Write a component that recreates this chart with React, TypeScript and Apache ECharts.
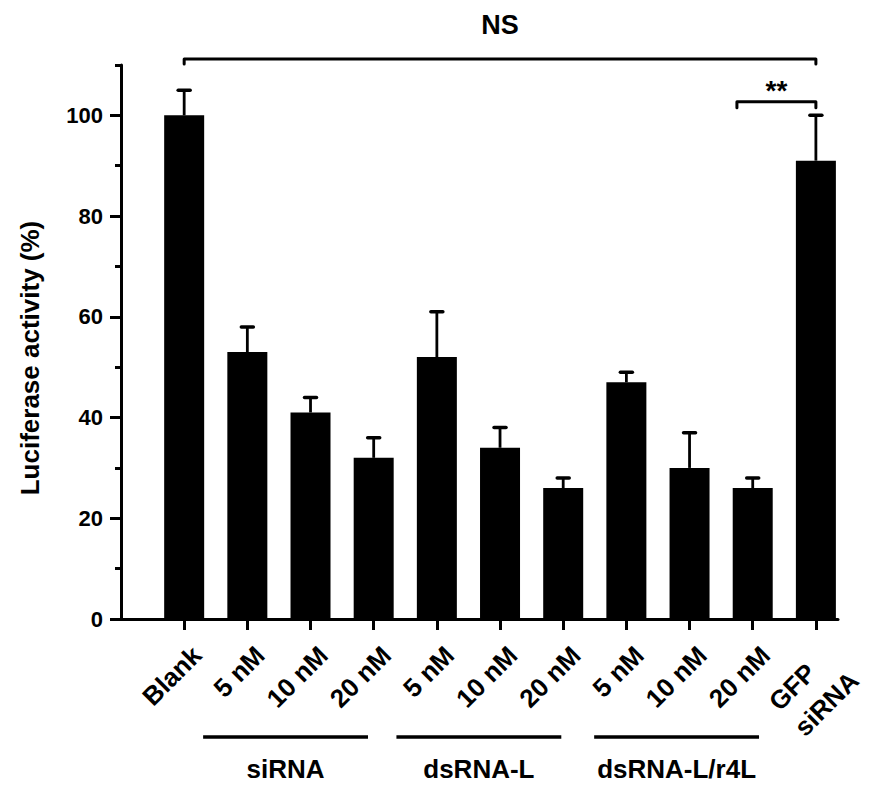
import React, { useEffect, useRef } from 'react';
import * as echarts from 'echarts';

const categories = ['Blank', '5 nM', '10 nM', '20 nM', '5 nM', '10 nM', '20 nM', '5 nM', '10 nM', '20 nM', 'GFP\nsiRNA'];
const luciferase = [100, 53, 41, 32, 52, 34, 26, 47, 30, 26, 91];
const errorTop = [105, 58, 44, 36, 61, 38, 28, 49, 37, 28, 100];
const categoryTicks = [0, 1, 2, 3, 4, 5, 6, 7, 8, 9, 10];
const yMajorTicks = [0, 20, 40, 60, 80, 100];
const yMinorTicks = [10, 30, 50, 70, 90, 110];

const groupNames = ['siRNA', 'dsRNA-L', 'dsRNA-L/r4L'];
const groupStart = [0.3, 3.36, 6.49];
const groupEnd = [2.91, 5.97, 9.1];

const bracketLabels = ['NS', '**'];
const bracketStart = [0, 8.75];
const bracketEnd = [10, 10];
const bracketTop = [111.2, 102.7];
const bracketFoot = [110.2, 101.5];
const bracketLabelY = [117.9, 105];

const FONT = '"Liberation Sans", Arial, sans-serif';

export default function App() {
  const ref = useRef<HTMLDivElement>(null);

  useEffect(() => {
    if (!ref.current) return;
    const chart = echarts.init(ref.current, undefined, { renderer: 'svg' });

    const option: any = {
      animation: false,
      backgroundColor: '#ffffff',
      grid: { left: 121, top: 65, right: 32, bottom: 166 },
      xAxis: {
        type: 'value',
        min: -1,
        max: 10.35,
        splitLine: { show: false },
        axisLine: { show: true, onZero: false, lineStyle: { color: '#000', width: 3 } },
        axisTick: { show: true, customValues: categoryTicks, length: 11, lineStyle: { color: '#000', width: 3 } },
        axisLabel: {
          customValues: categoryTicks,
          rotate: 45,
          margin: 19,
          verticalAlign: 'top',
          lineHeight: 36,
          color: '#000',
          fontSize: 26,
          fontWeight: 'bold',
          fontFamily: FONT,
          formatter: (v: number) => {
            const c = categories[Math.round(v)] ?? '';
            return c.split('\n').map((s) => '{a|' + s + '}').join('\n');
          },
          rich: {
            a: { align: 'left', fontSize: 26, fontWeight: 'bold', fontFamily: FONT, color: '#000', lineHeight: 36 },
          },
        },
      },
      yAxis: [
        {
          type: 'value',
          position: 'left',
          min: 0,
          max: 110,
          splitLine: { show: false },
          axisLine: { show: true, onZero: false, lineStyle: { color: '#000', width: 3 } },
          axisTick: { show: true, customValues: yMajorTicks, length: 11, lineStyle: { color: '#000', width: 3 } },
          axisLabel: {
            customValues: yMajorTicks,
            margin: 18,
            color: '#000',
            fontSize: 22,
            fontWeight: 'bold',
            fontFamily: FONT,
          },
        },
        {
          type: 'value',
          position: 'left',
          min: 0,
          max: 110,
          splitLine: { show: false },
          axisLine: { show: false, onZero: false },
          axisTick: { show: true, customValues: yMinorTicks, length: 6, lineStyle: { color: '#000', width: 3 } },
          axisLabel: { show: false },
        },
      ],
      graphic: [
        {
          type: 'text',
          x: 30,
          y: 358,
          rotation: Math.PI / 2,
          style: {
            text: 'Luciferase activity (%)',
            fill: '#000',
            fontSize: 26,
            fontWeight: 'bold',
            fontFamily: FONT,
            textAlign: 'center',
            textVerticalAlign: 'middle',
          },
        },
      ],
      series: [
        {
          type: 'bar',
          xAxisIndex: 0,
          yAxisIndex: 0,
          barWidth: 40,
          itemStyle: { color: '#000' },
          data: luciferase.map((v, i) => [i, v]),
        },
        {
          type: 'custom',
          xAxisIndex: 0,
          yAxisIndex: 0,
          clip: false,
          encode: { x: 0, y: [1, 2] },
          data: errorTop.map((v, i) => [i, luciferase[i], v]),
          renderItem: (params: any, api: any) => {
            const x = api.value(0);
            const base = api.coord([x, api.value(1)]);
            const top = api.coord([x, api.value(2)]);
            return {
              type: 'group',
              children: [
                { type: 'line', shape: { x1: base[0], y1: base[1], x2: top[0], y2: top[1] }, style: { stroke: '#000', lineWidth: 2.8 } },
                { type: 'line', shape: { x1: top[0] - 6, y1: top[1], x2: top[0] + 6, y2: top[1] }, style: { stroke: '#000', lineWidth: 3.5, lineCap: 'round' } },
              ],
            };
          },
        },
        {
          type: 'custom',
          xAxisIndex: 0,
          yAxisIndex: 0,
          clip: false,
          encode: { x: [0, 1], y: [2, 3] },
          data: bracketStart.map((s, i) => [s, bracketEnd[i], bracketTop[i], bracketFoot[i], bracketLabelY[i]]),
          renderItem: (params: any, api: any) => {
            const x1 = api.value(0);
            const x2 = api.value(1);
            const a = api.coord([x1, api.value(3)]);
            const b = api.coord([x1, api.value(2)]);
            const c = api.coord([x2, api.value(2)]);
            const d = api.coord([x2, api.value(3)]);
            const t = api.coord([(x1 + x2) / 2, api.value(4)]);
            const idx = params.dataIndex;
            return {
              type: 'group',
              children: [
                {
                  type: 'polyline',
                  shape: { points: [a, b, c, d] },
                  style: { stroke: '#000', lineWidth: 3, fill: null, lineJoin: 'round', lineCap: 'round' },
                },
                {
                  type: 'text',
                  x: t[0],
                  y: t[1],
                  style: {
                    text: bracketLabels[idx],
                    fill: '#000',
                    fontSize: idx === 0 ? 27 : 28,
                    fontWeight: 'bold',
                    fontFamily: FONT,
                    textAlign: 'center',
                    textVerticalAlign: 'middle',
                  },
                },
              ],
            };
          },
        },
        {
          type: 'custom',
          xAxisIndex: 0,
          yAxisIndex: 0,
          clip: false,
          encode: { x: [0, 1] },
          data: groupStart.map((s, i) => [s, groupEnd[i]]),
          renderItem: (params: any, api: any) => {
            const p1 = api.coord([api.value(0), 0]);
            const p2 = api.coord([api.value(1), 0]);
            const yLine = p1[1] + 118;
            const yText = p1[1] + 150;
            return {
              type: 'group',
              children: [
                { type: 'line', shape: { x1: p1[0], y1: yLine, x2: p2[0], y2: yLine }, style: { stroke: '#000', lineWidth: 3.5 } },
                {
                  type: 'text',
                  x: (p1[0] + p2[0]) / 2,
                  y: yText,
                  style: {
                    text: groupNames[params.dataIndex],
                    fill: '#000',
                    fontSize: 26,
                    fontWeight: 'bold',
                    fontFamily: FONT,
                    textAlign: 'center',
                    textVerticalAlign: 'middle',
                  },
                },
              ],
            };
          },
        },
      ],
    };

    chart.setOption(option);
    return () => chart.dispose();
  }, []);

  return <div ref={ref} style={{ position: 'fixed', left: 0, top: 0, width: 870, height: 785, background: '#fff' }} />;
}
